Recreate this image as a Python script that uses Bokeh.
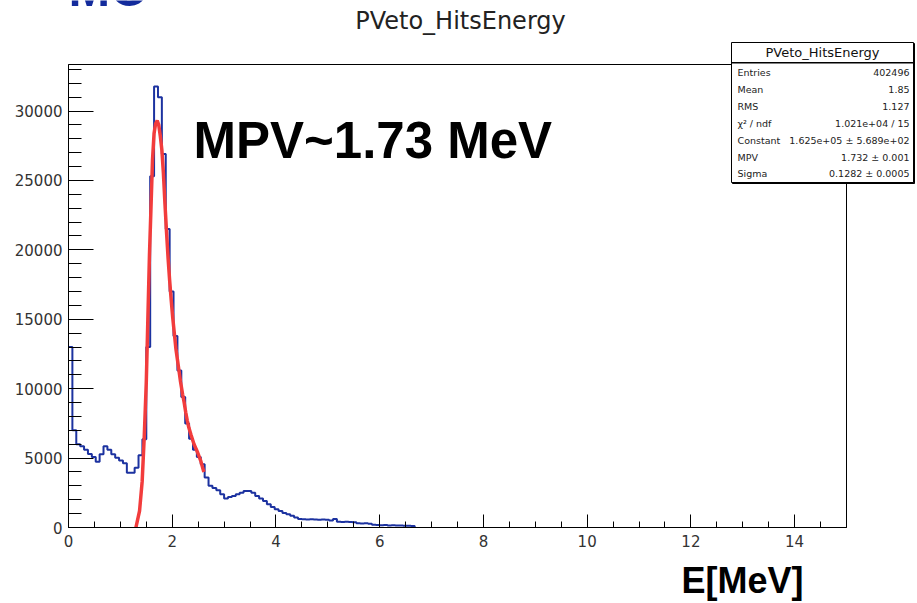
from bokeh.plotting import figure
from bokeh.models import Range1d, SingleIntervalTicker, BasicTickFormatter, Label, BoxAnnotation
from bokeh.embed import file_html
from bokeh.resources import INLINE

# ---------------- data ----------------
BIN_WIDTH = 0.075  # MeV per bin, histogram starts at 0
hist_counts = [
    13000, 7000, 6000, 5860, 5600, 5300, 5070, 4730, 5270, 5860,
    5600, 5270, 5020, 4830, 4620, 3940, 3940, 4300, 5200, 6350,
    13000, 25300, 31760, 31000, 26900, 21500, 17000, 13800, 11300, 9400,
    7500, 6400, 5600, 5070, 4550, 3600, 3000, 2850, 2680, 2390,
    2080, 2200, 2270, 2390, 2510, 2630, 2630, 2510, 2270, 2080,
    1910, 1670, 1480, 1310, 1190, 1050, 950, 850, 720, 620,
    600, 580, 600, 570, 560, 580, 550, 500, 620, 420,
    400, 420, 400, 380, 300, 280, 300, 270, 200, 180,
    170, 180, 150, 160, 150, 140, 130, 120, 100,
]

fit_energy = [1.30, 1.37, 1.42, 1.46, 1.50, 1.53, 1.56, 1.59, 1.62, 1.65,
              1.68, 1.71, 1.74, 1.77, 1.80, 1.83, 1.86, 1.89, 1.92, 1.95,
              1.98, 2.01, 2.04, 2.07, 2.10, 2.13, 2.16, 2.20, 2.23, 2.26,
              2.29, 2.32, 2.36, 2.42, 2.49, 2.55, 2.61]
fit_counts = [0, 1200, 3300, 6500, 10500, 15000, 19500, 23000, 26500, 28400,
              29100, 29300, 29000, 28200, 27200, 25500, 23300, 21300, 19400, 17800,
              16400, 15100, 14000, 12900, 12100, 11300, 10500, 9600, 9000, 8300,
              7700, 7200, 6700, 6000, 5400, 4800, 4000]

x_tick_step = 2
y_tick_step = 5000

plot_title = "PVeto_HitsEnergy"
stats_title = "PVeto_HitsEnergy"
stats_labels = ["Entries", "Mean", "RMS", "\u03c7\u00b2 / ndf", "Constant", "MPV", "Sigma"]
stats_values = ["402496", "1.85", "1.127", "1.021e+04 / 15",
                "1.625e+05 \u00b1 5.689e+02", "1.732 \u00b1 0.001", "0.1282 \u00b1 0.0005"]
annotation_text = "MPV~1.73 MeV"
corner_text = "MC"
x_label = "E[MeV]"

# ---------------- layout ----------------
W, H = 917, 603
FL, FR, FT, FB = 68, 846, 64, 527      # ROOT frame in canvas pixels
XMAX, YMAX = 15.0, 33350.0
BASE_SHIFT = 0.38                      # renderer's baseline offset, in em


def dx(px):
    return (px - FL) / (FR - FL) * XMAX


def dy(py):
    return (FB - py) / (FB - FT) * YMAX


def text_at(px, baseline_py, text, size, font, align="left", bold=False, color="black"):
    return Label(x=dx(px), y=dy(baseline_py - BASE_SHIFT * size), text=text,
                 text_font=font, text_font_size=f"{size}px",
                 text_font_style="bold" if bold else "normal", text_color=color,
                 text_align=align, text_baseline="alphabetic", level="overlay")


p = figure(width=W, height=H, x_range=Range1d(dx(0), dx(W)), y_range=Range1d(dy(H), dy(0)),
           output_backend="svg", toolbar_location=None, title=None,
           min_border_left=0, min_border_right=0, min_border_top=0, min_border_bottom=0)
p.background_fill_color = "white"
p.border_fill_color = "white"
p.outline_line_color = None
p.xgrid.visible = False
p.ygrid.visible = False

p.xaxis.ticker = SingleIntervalTicker(interval=x_tick_step, num_minor_ticks=4)
p.yaxis.ticker = SingleIntervalTicker(interval=y_tick_step, num_minor_ticks=5)
p.yaxis.formatter = BasicTickFormatter(use_scientific=False)
p.xaxis.fixed_location = 0
p.yaxis.fixed_location = 0
p.xaxis.bounds = (0, XMAX)
p.yaxis.bounds = (0, YMAX)
for ax in (p.xaxis[0], p.yaxis[0]):
    ax.axis_line_color = "black"
    ax.major_tick_line_color = "black"
    ax.minor_tick_line_color = "black"
    ax.major_tick_out = 0
    ax.minor_tick_out = 0
    ax.major_label_text_font = "DejaVu Sans"
    ax.major_label_text_font_size = "15px"
    ax.major_label_text_color = "#333333"
p.xaxis.major_tick_in = 13
p.xaxis.minor_tick_in = 6
p.xaxis.major_label_standoff = 7
p.yaxis.major_tick_in = 25
p.yaxis.minor_tick_in = 13
p.yaxis.major_label_standoff = 6

# ROOT frame
p.add_layout(BoxAnnotation(left=0, right=XMAX, bottom=0, top=YMAX, fill_alpha=0,
                           line_color="black", line_width=1, line_alpha=1))

# histogram outline
edges = [i * BIN_WIDTH for i in range(len(hist_counts) + 1)]
step_x = edges
step_y = hist_counts + [0]
p.step(step_x, step_y, mode="after", line_color="#1c32a0", line_width=2)

# fit curve
p.line(fit_energy, fit_counts, line_color="#f23c3c", line_width=3.5)

# stats box
p.add_layout(BoxAnnotation(left=dx(732), right=dx(914), top=dy(43), bottom=dy(183),
                           fill_color="black", fill_alpha=1, line_color="black", line_alpha=1,
                           level="overlay"))
p.add_layout(BoxAnnotation(left=dx(731), right=dx(913), top=dy(42), bottom=dy(182),
                           fill_color="white", fill_alpha=1, line_color="black", line_width=1,
                           line_alpha=1, level="overlay"))
p.add_layout(BoxAnnotation(left=dx(731), right=dx(913), top=dy(62), bottom=dy(62.5),
                           fill_color="black", fill_alpha=1, line_color="black", line_width=1,
                           line_alpha=1, level="overlay"))

p.add_layout(Label(x=dx(822), y=dy(52), text=stats_title, text_font="DejaVu Sans",
                   text_font_size="13px", text_color="#111111", text_align="center",
                   text_baseline="middle", level="overlay"))
row_y = [72, 89, 106, 123, 140, 157, 173]
for lab, val, ry in zip(stats_labels, stats_values, row_y):
    p.add_layout(Label(x=dx(737), y=dy(ry), text=lab, text_font="DejaVu Sans",
                       text_font_size="9.5px", text_color="#222222", text_align="left",
                       text_baseline="middle", level="overlay"))
    p.add_layout(Label(x=dx(909), y=dy(ry), text=val, text_font="DejaVu Sans",
                       text_font_size="9.5px", text_color="#222222", text_align="right",
                       text_baseline="middle", level="overlay"))

# texts
p.add_layout(text_at(460, 30, plot_title, 24, "DejaVu Sans", align="center", color="#222222"))
p.add_layout(text_at(68, 7, corner_text, 50, "Liberation Sans", bold=True, color="#132b9c"))
p.add_layout(text_at(193, 159, annotation_text, 51, "Liberation Sans", bold=True))
p.add_layout(text_at(681, 594, x_label, 36, "Liberation Sans", bold=True))

open("out.html", "w").write(file_html(p, INLINE))
